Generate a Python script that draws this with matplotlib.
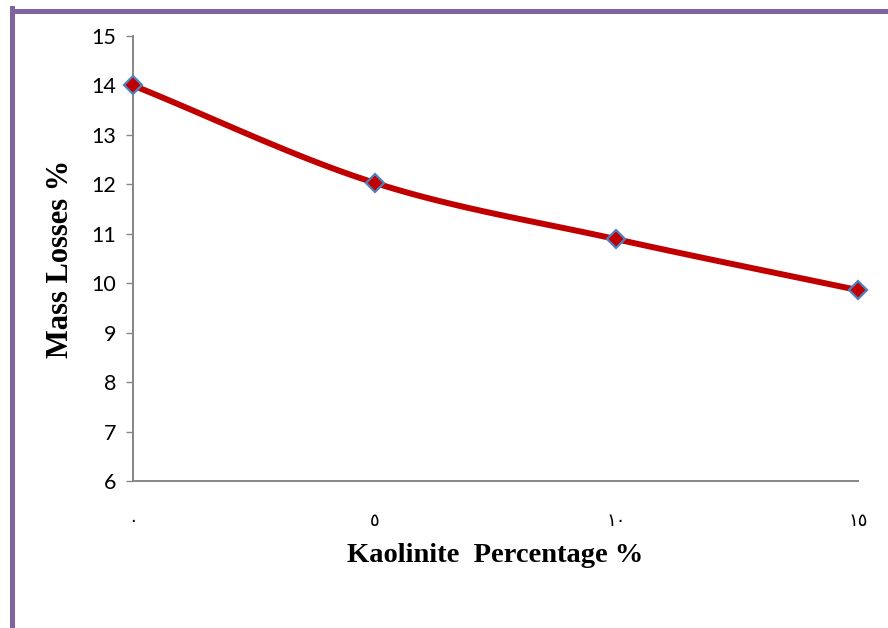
import numpy as np
import matplotlib.pyplot as plt
from matplotlib.lines import Line2D

# Datos
kaolinite = [0, 5, 10, 15]
mass_loss = [14.0, 12.03, 10.89, 9.86]
x_labels = ['٠', '٥', '١٠', '١٥']
y_ticks = [6, 7, 8, 9, 10, 11, 12, 13, 14, 15]

RED = '#C00000'
BLUE = '#4F81BD'
PURPLE = '#8064A2'
GRAY = '#868686'


def smooth_curve(x, y, n=40):
    """Catmull-Rom spline through the points, for a smoothed line."""
    x = np.asarray(x, float)
    y = np.asarray(y, float)
    px = np.concatenate([[2 * x[0] - x[1]], x, [2 * x[-1] - x[-2]]])
    py = np.concatenate([[2 * y[0] - y[1]], y, [2 * y[-1] - y[-2]]])
    xs, ys = [], []
    t = np.linspace(0, 1, n)
    for i in range(1, len(px) - 2):
        for p, out in ((px, xs), (py, ys)):
            p0, p1, p2, p3 = p[i - 1], p[i], p[i + 1], p[i + 2]
            out.extend(0.5 * (2 * p1 + (-p0 + p2) * t
                              + (2 * p0 - 5 * p1 + 4 * p2 - p3) * t**2
                              + (-p0 + 3 * p1 - 3 * p2 + p3) * t**3))
    return np.array(xs), np.array(ys)


fig = plt.figure(figsize=(8.88, 6.28), dpi=100)
ax = fig.add_axes([0.1498, 0.2341, 0.8164, 0.7086])

sx, sy = smooth_curve(kaolinite, mass_loss)
ax.plot(sx, sy, color=RED, lw=4.3, solid_capstyle='round', zorder=3, clip_on=False)
ax.plot(kaolinite, mass_loss, ls='none', marker='D', ms=9,
        markerfacecolor=RED, markeredgecolor=BLUE, markeredgewidth=1.6,
        zorder=4, clip_on=False)

ax.set_xlim(0, 15)
ax.set_ylim(6, 15)
ax.set_yticks(y_ticks)
ax.set_xticks(kaolinite)
ax.set_xticklabels(x_labels, fontsize=13, family=['DejaVu Sans'])
ax.tick_params(axis='x', length=0, pad=22)
ax.tick_params(axis='y', length=5, width=1, color=GRAY, pad=7)
for lab in ax.get_yticklabels():
    lab.set_family('Lato')
    lab.set_fontsize(15.5)

for side in ('top', 'right'):
    ax.spines[side].set_visible(False)
for side in ('left', 'bottom'):
    ax.spines[side].set_color(GRAY)
    ax.spines[side].set_linewidth(1.4)

ax.set_xlabel('Kaolinite  Percentage %', family='Liberation Serif',
              fontweight='bold', fontsize=20.5, labelpad=10)
ax.set_ylabel('Mass Losses %', family='Liberation Serif',
              fontweight='bold', fontsize=22, labelpad=12)

# marco morado
fig.add_artist(Line2D([11.5 / 888, 11.5 / 888], [0, 1 - 8 / 628],
                      transform=fig.transFigure, color=PURPLE, lw=3.6,
                      solid_capstyle='projecting'))
fig.add_artist(Line2D([11.5 / 888, 1], [1 - 10.5 / 628, 1 - 10.5 / 628],
                      transform=fig.transFigure, color=PURPLE, lw=3.6,
                      solid_capstyle='projecting'))

fig.savefig('out.png', dpi=100)
